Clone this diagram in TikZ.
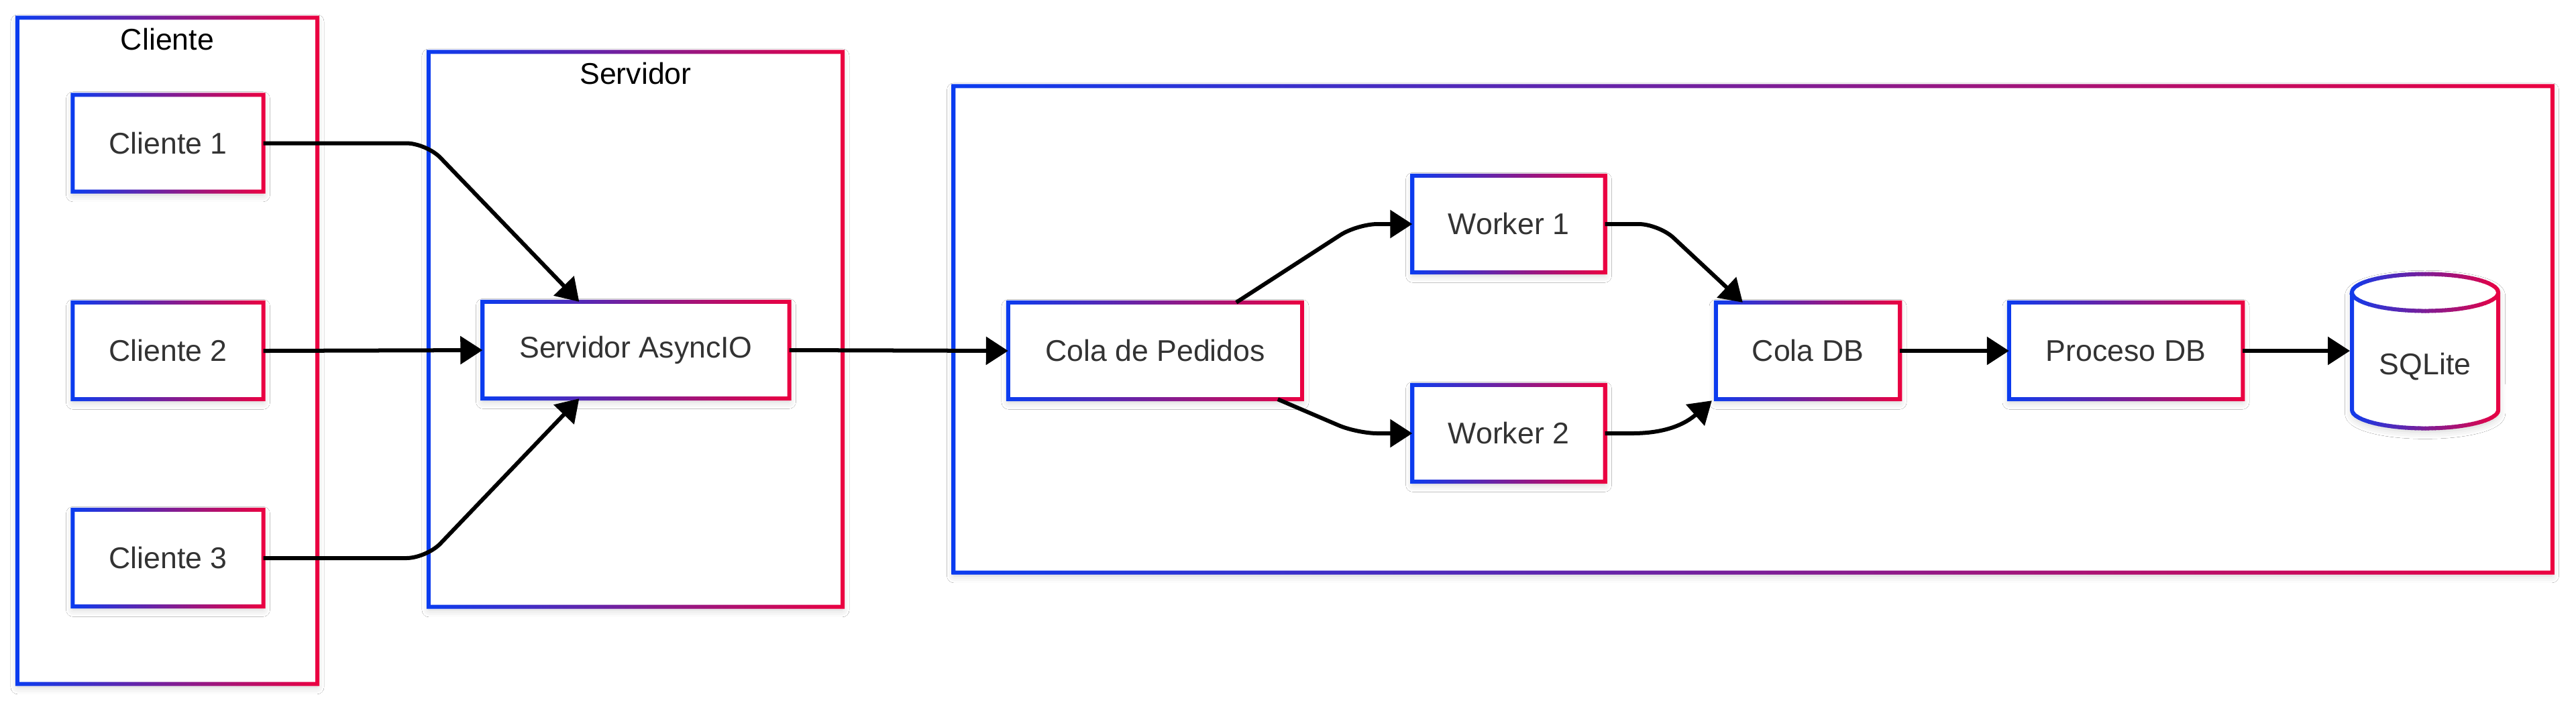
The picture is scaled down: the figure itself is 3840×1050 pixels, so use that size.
\documentclass[tikz,border=0pt]{standalone}
\usepackage{fontspec}
\setmainfont{Liberation Sans}
\usetikzlibrary{arrows.meta,calc,shadows.blur}
\definecolor{gblue}{HTML}{0A3CF0}
\definecolor{gred}{HTML}{EC0040}
\definecolor{txt}{HTML}{333333}
\tikzset{
  softshadow/.style={blur shadow={shadow xshift=0pt,shadow yshift=-1.5pt,shadow blur radius=3pt,shadow opacity=18}},
  boxnode/.style={draw=none,fill=white,softshadow,text=txt,inner sep=0pt,
    font=\fontsize{12.7}{15}\selectfont},
  contnode/.style={draw=none,fill=white,softshadow,inner sep=0pt},
  titlenode/.style={text=black,inner sep=0pt,font=\fontsize{12.7}{15}\selectfont},
  labelnode/.style={text=txt,inner sep=0pt,font=\fontsize{12.7}{15}\selectfont},
  conn/.style={draw=black,line width=0.06cm,rounded corners=0.3cm,
    -{Triangle[length=0.33cm,width=0.41cm]}},
  cyl/.style={insert path={(3506,436) -- (3506,611)
     arc[start angle=180,end angle=360,x radius=1.09cm,y radius=0.275cm]
     -- (3724,436)
     arc[start angle=0,end angle=180,x radius=1.09cm,y radius=0.275cm] -- cycle}},
  cyltop/.style={insert path={(3506,436)
     arc[start angle=180,end angle=360,x radius=1.09cm,y radius=0.275cm]}}
}
\newcommand\gring[1]{%
  \shade[left color=gblue,right color=gred,even odd rule]
    ([shift={(-0.03cm,-0.03cm)}]#1.south west) rectangle ([shift={(0.03cm,0.03cm)}]#1.north east)
    ([shift={(0.03cm,0.03cm)}]#1.south west) rectangle ([shift={(-0.03cm,-0.03cm)}]#1.north east);
}
\newcommand\gbox[6]{%
  \node[boxnode,minimum width=#4*0.01cm,minimum height=#5*0.01cm] (#1) at (#2,#3) {#6};
  \gring{#1}%
}
\newcommand\gcont[5]{%
  \node[contnode,minimum width=#4*0.01cm,minimum height=#5*0.01cm] (#1) at (#2,#3) {};
  \gring{#1}%
}
\begin{document}
\begin{tikzpicture}[x=0.01cm,y=-0.01cm]
\useasboundingbox[fill=white] (0,0) rectangle (3840,1050);

% containers
\gcont{cliente}{249.5}{523}{446}{992}
\gcont{servidor}{947.5}{491}{616}{826}
\gcont{proc}{2613}{491}{2382}{724}
\node[titlenode] (tcliente) at (249.5,59) {Cliente};
\node[titlenode] (tservidor) at (947.5,110) {Servidor};

% boxes
\gbox{c1}{250.5}{213.5}{283}{143}{Cliente 1}
\gbox{c2}{250.5}{523}{283}{143}{Cliente 2}
\gbox{c3}{250.5}{832}{283}{143}{Cliente 3}
\gbox{srv}{948}{522}{456}{143}{Servidor AsyncIO}
\gbox{cola}{1722}{523}{437}{143}{Cola de Pedidos}
\gbox{w1}{2249}{334}{286}{143}{Worker 1}
\gbox{w2}{2249}{646}{286}{143}{Worker 2}
\gbox{coladb}{2695}{523}{273}{143}{Cola DB}
\gbox{procdb}{3169}{523}{347}{143}{Proceso DB}

% cylinder
\fill[white,softshadow,cyl];
\foreach \i in {0,...,45} {
  \pgfmathtruncatemacro\p{100-(\i+0.5)*100/46}
  \begin{scope}
    \clip (3500+\i*5,390) rectangle (3506+\i*5,660);
    \draw[line width=0.06cm,color=gblue!\p!gred,cyl];
    \draw[line width=0.06cm,color=gblue!\p!gred,cyltop];
  \end{scope}
}
\node[labelnode] (sqlite) at (3615,547) {SQLite};
\coordinate (sqlw) at (3503,523);

% connectors
\draw[conn] (c1.east) -- ++(243,0) -- ($(srv.north west)+(144,0)$);
\draw[conn] (c2.east) -- (srv.west);
\draw[conn] (c3.east) -- ++(243,0) -- ($(srv.south west)+(144,0)$);
\draw[conn] (srv.east) -- (cola.west);
\draw[conn] ($(cola.north west)+(340,0)$) -- ($(w1.west)+(-82,0)$) -- (w1.west);
\draw[conn] ($(cola.south west)+(402,0)$) -- ($(w2.west)+(-82,0)$) -- (w2.west);
\draw[conn] (w1.east) -- ++(80,0) -- ($(coladb.north west)+(40,0)$);
\draw[conn,rounded corners=0pt] (w2.east) -- ++(40,0) .. controls +(50,0) and +(-40,35) .. ($(coladb.south west)+(-6,2)$);
\draw[conn] (coladb.east) -- (procdb.west);
\draw[conn] (procdb.east) -- (sqlw);
\end{tikzpicture}
\end{document}
